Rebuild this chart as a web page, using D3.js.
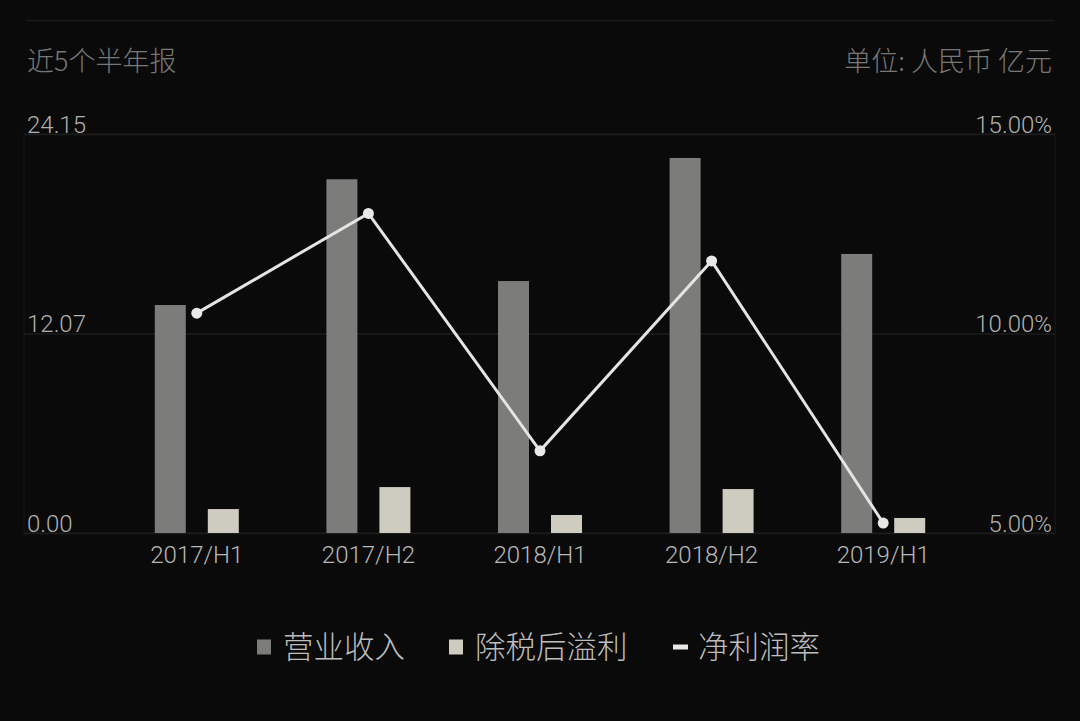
<!DOCTYPE html>
<html>
<head>
<meta charset="utf-8">
<script src="https://cdn.jsdelivr.net/npm/d3@7"></script>
<style>
  html, body { margin: 0; padding: 0; background: #0a0a0a; }
  svg { display: block; }
</style>
</head>
<body>
<div id="chart-container"></div>
<script>
const categories = ['2017/H1', '2017/H2', '2018/H1', '2018/H2', '2019/H1']
const seriesNames = ['营业收入', '除税后溢利', '净利润率']
const revenue = [13.80, 21.41, 15.25, 22.70, 16.89]
const netProfit = [1.45, 2.78, 1.09, 2.66, 0.91]
const netMargin = [10.51, 13.01, 7.06, 11.82, 5.25]
const leftTicks = [0, 12.07, 24.15]
const rightTicks = [5, 10, 15]

const width = 1080
const height = 721
const plotLeft = 24
const plotRight = 1055
const plotTop = 134
const plotBottom = 533
const fontNum = 'Roboto, "Noto Sans CJK SC", sans-serif'
const fontCJK = '"Noto Sans CJK SC", sans-serif'

const svg = d3.select('#chart-container')
  .append('svg')
  .attr('width', width)
  .attr('height', height)
  .style('background-color', '#0a0a0a')

// top separator and frame
svg.append('line')
  .attr('x1', 27).attr('x2', plotRight)
  .attr('y1', 20.5).attr('y2', 20.5)
  .attr('stroke', '#1b1b1b').attr('stroke-width', 1.5)

svg.append('rect')
  .attr('x', plotLeft).attr('y', plotTop)
  .attr('width', plotRight - plotLeft).attr('height', plotBottom - plotTop)
  .attr('fill', 'none').attr('stroke', '#151515').attr('stroke-width', 1.5)

svg.append('text')
  .attr('x', 27).attr('y', 71)
  .attr('font-family', fontCJK).attr('font-size', 27).attr('font-weight', 300)
  .attr('fill', '#777777')
  .text('近5个半年报')

svg.append('text')
  .attr('x', 1052).attr('y', 71)
  .attr('text-anchor', 'end')
  .attr('font-family', fontCJK).attr('font-size', 27).attr('font-weight', 300)
  .attr('fill', '#777777')
  .text('单位: 人民币 亿元')

const x0 = d3.scaleBand()
  .domain(categories)
  .range([111, 969])

const x1 = d3.scaleBand()
  .domain(seriesNames.slice(0, 2))
  .range([-42, 42])
  .paddingInner(0.415)

const yLeft = d3.scaleLinear()
  .domain([0, 24.15])
  .range([plotBottom, plotTop])

const yRight = d3.scaleLinear()
  .domain([5, 15])
  .range([plotBottom, plotTop])

// left axis with grid lines
const gLeft = svg.append('g')
  .attr('transform', 'translate(' + plotLeft + ',0)')
  .call(d3.axisRight(yLeft).tickValues(leftTicks).tickSize(plotRight - plotLeft).tickFormat(d3.format('.2f')))
gLeft.select('.domain').remove()
gLeft.selectAll('.tick line').attr('stroke', '#1d1d1d').attr('stroke-width', 1.5)
gLeft.selectAll('.tick text')
  .attr('x', 3).attr('dy', '-0.08em')
  .attr('text-anchor', 'start')
  .attr('font-family', fontNum).attr('font-size', 24).attr('font-weight', 300)
  .attr('fill', '#b0b0b0')

// right axis
const gRight = svg.append('g')
  .attr('transform', 'translate(' + 1052 + ',0)')
  .call(d3.axisLeft(yRight).tickValues(rightTicks).tickSize(0).tickFormat(d => d3.format('.2f')(d) + '%'))
gRight.select('.domain').remove()
gRight.selectAll('.tick text')
  .attr('x', 0).attr('dy', '-0.08em')
  .attr('text-anchor', 'end')
  .attr('font-family', fontNum).attr('font-size', 24).attr('font-weight', 300)
  .attr('fill', '#b0b0b0')

// x axis labels
const gX = svg.append('g')
  .attr('transform', 'translate(0,' + plotBottom + ')')
  .call(d3.axisBottom(x0).tickSize(0))
gX.select('.domain').remove()
gX.selectAll('.tick text')
  .attr('y', 30).attr('dy', 0)
  .attr('font-family', fontNum).attr('font-size', 24).attr('font-weight', 300)
  .attr('fill', '#b8b8b8')

const barSeries = [
  { name: seriesNames[0], values: revenue, color: '#7c7c7a' },
  { name: seriesNames[1], values: netProfit, color: '#cecbc1' }
]

barSeries.forEach(s => {
  svg.append('g')
    .selectAll('rect')
    .data(s.values)
    .enter()
    .append('rect')
    .attr('x', (d, i) => x0(categories[i]) + x0.bandwidth() / 2 + x1(s.name))
    .attr('y', d => yLeft(d))
    .attr('width', x1.bandwidth())
    .attr('height', d => plotBottom - yLeft(d))
    .attr('fill', s.color)
})

const cx = (d, i) => x0(categories[i]) + x0.bandwidth() / 2

const line = d3.line()
  .x(cx)
  .y(d => yRight(d))

svg.append('path')
  .datum(netMargin)
  .attr('d', line)
  .attr('fill', 'none')
  .attr('stroke', '#e4e4e2')
  .attr('stroke-width', 3)

svg.append('g')
  .selectAll('circle')
  .data(netMargin)
  .enter()
  .append('circle')
  .attr('cx', cx)
  .attr('cy', d => yRight(d))
  .attr('r', 5.5)
  .attr('fill', '#e8e8e6')

// legend
const legendY = 647
const legendItems = [
  { name: seriesNames[0], x: 257, color: '#7c7c7a', kind: 'box' },
  { name: seriesNames[1], x: 449, color: '#cecbc1', kind: 'box' },
  { name: seriesNames[2], x: 673, color: '#e8e8e6', kind: 'dash' }
]
const legend = svg.append('g')
legendItems.forEach(item => {
  if (item.kind === 'box') {
    legend.append('rect')
      .attr('x', item.x).attr('y', legendY - 7.5)
      .attr('width', 14).attr('height', 15)
      .attr('fill', item.color)
  } else {
    legend.append('rect')
      .attr('x', item.x).attr('y', legendY - 2.5)
      .attr('width', 15).attr('height', 5)
      .attr('fill', item.color)
  }
  legend.append('text')
    .attr('x', item.x + (item.kind === 'box' ? 26 : 25))
    .attr('y', legendY)
    .attr('dy', '0.36em')
    .attr('font-family', fontCJK).attr('font-size', 30.5).attr('font-weight', 300)
    .attr('fill', '#bdbdbd')
    .text(item.name)
})
</script>
</body>
</html>
